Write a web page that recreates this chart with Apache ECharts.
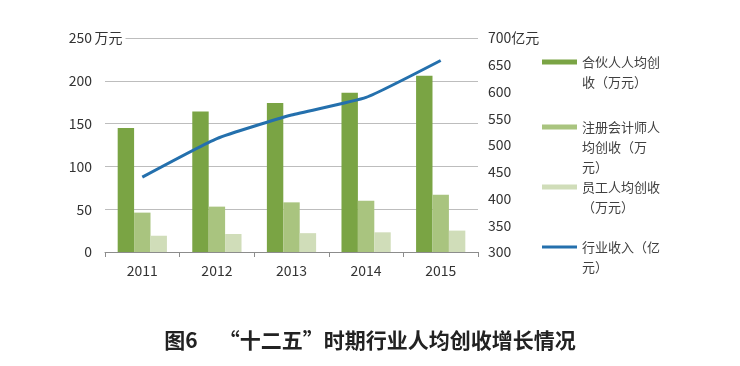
<!DOCTYPE html>
<html><head><meta charset="utf-8">
<script src="https://cdn.jsdelivr.net/npm/echarts@6/dist/echarts.min.js"></script>
<style>html,body{margin:0;padding:0;background:#fff}#c{width:740px;height:366px}</style>
</head><body><div id="c"></div>
<script>
const categories = ['2011', '2012', '2013', '2014', '2015'];
const partnerPerCapita = [145, 164, 174, 186, 206];
const cpaPerCapita = [46, 53, 58, 60, 67];
const staffPerCapita = [19, 21, 22, 23, 25];
const industryRevenue = [440, 512, 556, 589, 658];
const seriesNames = ['合伙人人均创收（万元）', '注册会计师人均创收（万元）', '员工人均创收（万元）', '行业收入（亿元）'];
const legendLabels = ['合伙人人均创\n收（万元）', '注册会计师人\n均创收（万\n元）', '员工人均创收\n（万元）', '行业收入（亿\n元）'];
const leftTicks = [0, 50, 100, 150, 200, 250];
const rightTicks = [300, 350, 400, 450, 500, 550, 600, 650, 700];
const leftUnit = '万元';
const rightUnit = '亿元';
const titleText = '图6　“十二五”时期行业人均创收增长情况';

const FONT = '"Noto Sans CJK SC", "Noto Sans", sans-serif';
const colors = ['#7aa444', '#a9c47f', '#d0ddb9', '#2470ad'];
const LH = 20;
const legendFirstLineY = [62, 127, 187, 247];

const legends = seriesNames.map((name, i) => {
  const lines = legendLabels[i].split('\n');
  const n = lines.length;
  const padded = '\n'.repeat(n - 1) + legendLabels[i];
  return {
    data: [name],
    orient: 'vertical',
    left: 542,
    top: legendFirstLineY[i] - (2 * n - 1) * LH / 2,
    padding: 0,
    itemWidth: 35,
    itemHeight: i === 3 ? 3 : 5,
    icon: 'rect',
    selectedMode: false,
    formatter: () => padded,
    textStyle: { fontFamily: FONT, fontSize: 13, color: '#404040', lineHeight: LH }
  };
});

const chart = echarts.init(document.getElementById('c'));
chart.setOption({
  backgroundColor: '#fff',
  animation: false,
  color: colors,
  title: {
    text: titleText,
    left: 'center',
    top: 325,
    textStyle: { fontFamily: FONT, fontSize: 21, fontWeight: 'bold', color: '#222' }
  },
  legend: legends,
  grid: { left: 105, right: 262, top: 38, bottom: 114 },
  xAxis: {
    type: 'category',
    data: categories,
    axisLine: { lineStyle: { color: '#8c8c8c' } },
    axisTick: { show: true, length: 5, lineStyle: { color: '#8c8c8c' } },
    axisLabel: { fontFamily: FONT, fontSize: 14, color: '#333', margin: 12 }
  },
  yAxis: [
    {
      type: 'value', min: leftTicks[0], max: leftTicks[leftTicks.length - 1], interval: 50,
      name: '{u|' + leftUnit + '}', nameLocation: 'end', nameGap: 0, nameMoveOverlap: false,
      nameTextStyle: {
        align: 'center', verticalAlign: 'middle', padding: [0, 2, 0, 12],
        rich: { u: { fontFamily: FONT, fontSize: 14, color: '#333', backgroundColor: '#fff', padding: [0, 3, 0, 0] } }
      },
      axisLine: { show: false }, axisTick: { show: false },
      axisLabel: { fontFamily: FONT, fontSize: 14, color: '#333', margin: 13 },
      splitLine: { lineStyle: { color: '#bdbdbd', width: 1 } }
    },
    {
      type: 'value', min: rightTicks[0], max: rightTicks[rightTicks.length - 1], interval: 50,
      axisLine: { show: false }, axisTick: { show: false },
      axisLabel: {
        fontFamily: FONT, fontSize: 14, color: '#333', margin: 10,
        formatter: v => v === rightTicks[rightTicks.length - 1] ? v + rightUnit : String(v)
      },
      splitLine: { show: false }
    }
  ],
  series: [
    { name: seriesNames[0], type: 'bar', data: partnerPerCapita, barGap: '0%', barCategoryGap: '34%', itemStyle: { color: colors[0] } },
    { name: seriesNames[1], type: 'bar', data: cpaPerCapita, barGap: '0%', barCategoryGap: '34%', itemStyle: { color: colors[1] } },
    { name: seriesNames[2], type: 'bar', data: staffPerCapita, barGap: '0%', barCategoryGap: '34%', itemStyle: { color: colors[2] } },
    { name: seriesNames[3], type: 'line', yAxisIndex: 1, data: industryRevenue, symbol: 'none', smooth: 0.15,
      lineStyle: { color: colors[3], width: 3 }, itemStyle: { color: colors[3] }, z: 5 }
  ]
});
</script>
</body></html>
